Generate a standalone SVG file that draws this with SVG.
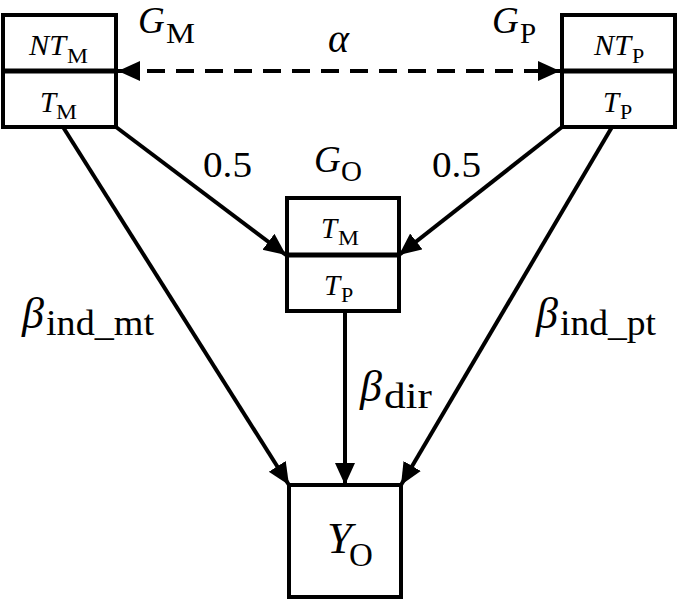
<svg xmlns="http://www.w3.org/2000/svg" width="677" height="600" viewBox="0 0 677 600">
<defs>
<marker id="ah" markerUnits="userSpaceOnUse" markerWidth="24" markerHeight="22" refX="22" refY="10" orient="auto-start-reverse" viewBox="0 0 24 22">
<path d="M0,0 L22,10 L0,20 z" fill="#000"/>
</marker>
<style>
.box{fill:#fff;stroke:#000;stroke-width:4}
.div{stroke:#000;stroke-width:5}
.edge{stroke:#000;stroke-width:4;fill:none;marker-end:url(#ah)}
.dash{stroke-dasharray:18 11;marker-start:url(#ah)}
.mi{font-family:"Liberation Serif","DejaVu Serif",serif;font-style:italic}
.mu{font-family:"Liberation Serif","DejaVu Serif",serif}
text{fill:#000}
</style>
</defs>
<g id="connectors">
<line class="edge dash" x1="118" y1="71" x2="560" y2="71"/>
<line class="edge" x1="116" y1="127" x2="286" y2="255"/>
<line class="edge" x1="562" y1="127" x2="399" y2="255"/>
<line class="edge" x1="63" y1="127" x2="289" y2="485"/>
<line class="edge" x1="612" y1="127" x2="401" y2="485"/>
<line class="edge" x1="345" y1="311" x2="345" y2="485"/>
</g>
<g id="GM">
<rect class="box" x="3" y="15" width="113" height="112"/>
<line class="div" x1="3" y1="71" x2="116" y2="71"/>
<text class="mi" x="29" y="55" font-size="29" textLength="37" lengthAdjust="spacingAndGlyphs">NT</text>
<text class="mu" x="67" y="63" font-size="22" textLength="21" lengthAdjust="spacingAndGlyphs">M</text>
<text class="mi" x="40" y="112" font-size="29">T</text>
<text class="mu" x="56" y="119" font-size="22" textLength="21" lengthAdjust="spacingAndGlyphs">M</text>
</g>
<g id="GP">
<rect class="box" x="562" y="15" width="113" height="112"/>
<line class="div" x1="562" y1="71" x2="675" y2="71"/>
<text class="mi" x="594" y="55" font-size="29" textLength="37" lengthAdjust="spacingAndGlyphs">NT</text>
<text class="mu" x="632" y="63" font-size="22">P</text>
<text class="mi" x="603" y="112" font-size="29">T</text>
<text class="mu" x="620" y="119" font-size="22">P</text>
</g>
<g id="GO">
<rect class="box" x="287" y="198" width="112" height="113"/>
<line class="div" x1="287" y1="255" x2="399" y2="255"/>
<text class="mi" x="321" y="238" font-size="29">T</text>
<text class="mu" x="338" y="245" font-size="22" textLength="21" lengthAdjust="spacingAndGlyphs">M</text>
<text class="mi" x="324" y="295" font-size="29">T</text>
<text class="mu" x="341" y="302" font-size="22">P</text>
</g>
<g id="YO">
<rect class="box" x="289" y="485" width="112" height="112"/>
<text class="mi" x="327" y="553" font-size="45">Y</text>
<text class="mu" x="349" y="566" font-size="33">O</text>
</g>
<g id="labels">
<text class="mi" x="138" y="33" font-size="37">G</text>
<text class="mu" x="166" y="43" font-size="29" textLength="29" lengthAdjust="spacingAndGlyphs">M</text>
<text class="mi" x="492" y="33" font-size="37">G</text>
<text class="mu" x="520" y="43" font-size="29">P</text>
<text class="mi" x="314" y="172" font-size="37">G</text>
<text class="mu" x="341" y="181" font-size="29">O</text>
<text class="mi" x="328" y="52" font-size="40">α</text>
<text class="mu" x="203" y="177" font-size="35" textLength="49" lengthAdjust="spacingAndGlyphs">0.5</text>
<text class="mu" x="432" y="177" font-size="35" textLength="49" lengthAdjust="spacingAndGlyphs">0.5</text>
<text class="mi" x="22" y="328" font-size="44">β</text>
<text class="mu" x="46" y="335" font-size="35" textLength="108" lengthAdjust="spacingAndGlyphs">ind_mt</text>
<text class="mi" x="536" y="328" font-size="44">β</text>
<text class="mu" x="560" y="335" font-size="35" textLength="96" lengthAdjust="spacingAndGlyphs">ind_pt</text>
<text class="mi" x="360" y="401" font-size="44">β</text>
<text class="mu" x="384" y="408" font-size="35" textLength="48" lengthAdjust="spacingAndGlyphs">dir</text>
</g>
</svg>
